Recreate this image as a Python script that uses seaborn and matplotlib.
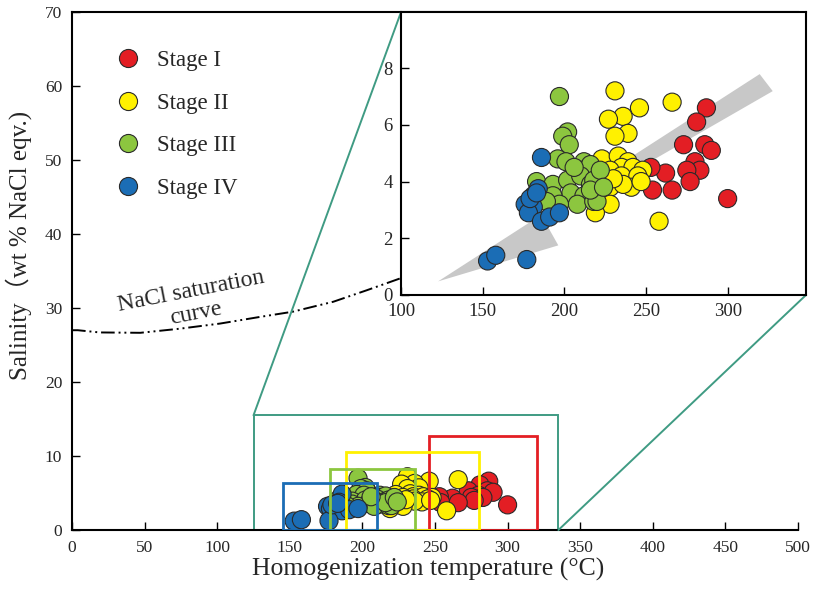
import numpy as np
import pandas as pd
import matplotlib
matplotlib.use("Agg")
import matplotlib.pyplot as plt
from matplotlib.patches import Rectangle, Polygon, ConnectionPatch
import seaborn as sns

# ---------------- data ----------------
stages = ["Stage I", "Stage II", "Stage III", "Stage IV"]
stage_colors = ["#e31e24", "#fff100", "#8cc63f", "#1b6db5"]

stage1_T = [287, 281, 273, 286, 290, 280, 283, 275, 277, 262, 253, 254, 266, 300]
stage1_S = [6.6, 6.1, 5.3, 5.3, 5.1, 4.7, 4.4, 4.4, 4.0, 4.3, 4.5, 3.7, 3.7, 3.4]

stage2_T = [231, 266, 246, 236, 227, 239, 231, 223, 233, 239, 235, 242, 248, 228,
            235, 245, 228, 241, 236, 228, 219, 258, 222, 230, 247]
stage2_S = [7.2, 6.8, 6.6, 6.3, 6.2, 5.7, 5.6, 4.8, 4.9, 4.7, 4.5, 4.5, 4.4, 4.4,
            4.2, 4.2, 3.8, 3.8, 3.9, 3.2, 2.9, 2.6, 4.3, 4.1, 4.0]

stage3_T = [197, 202, 199, 203, 196, 201, 212, 211, 216, 183, 193, 202, 210, 216,
            204, 212, 193, 208, 218, 197, 218, 220, 216, 206, 222, 189, 224]
stage3_S = [7.0, 5.75, 5.6, 5.3, 4.8, 4.7, 4.7, 4.4, 4.6, 4.0, 3.9, 4.05, 4.2, 3.9,
            3.6, 3.5, 3.5, 3.2, 3.3, 3.2, 4.05, 3.3, 3.7, 4.5, 4.4, 3.3, 3.8]

stage4_T = [186, 184, 181, 176, 181, 178, 186, 191, 197, 153, 158, 177, 179, 183]
stage4_S = [4.85, 3.75, 3.5, 3.2, 3.1, 2.9, 2.6, 2.75, 2.9, 1.2, 1.4, 1.25, 3.4, 3.6]

# range boxes of each stage (T min, T max, salinity max)
box_left = [246, 189, 178, 145]
box_right = [320, 280, 236, 210]
box_top = [12.7, 10.6, 8.3, 6.4]

# zoom window shown in inset
zoom_T = [125, 335]
zoom_S_top = 15.5

# NaCl saturation curve
nacl_T = [0, 4, 19, 47, 74, 102, 129.5, 152, 180, 203, 226, 245]
nacl_S = [27.0, 27.0, 26.7, 26.65, 27.2, 27.9, 28.8, 29.5, 30.85, 32.4, 34.0, 35.5]

# grey trend band in inset (T, S)
band_T = [122.7, 319.6, 327.6, 188.3, 196.3]
band_S = [0.48, 7.79, 7.19, 2.57, 1.75]

main_xticks = list(range(0, 501, 50))
main_yticks = list(range(0, 71, 10))
inset_xticks = [100, 150, 200, 250, 300]
inset_yticks = [0, 2, 4, 6, 8]

# ---------------- frame ----------------
rows = []
for st, T, S in zip(stages, [stage1_T, stage2_T, stage3_T, stage4_T],
                    [stage1_S, stage2_S, stage3_S, stage4_S]):
    for t, s in zip(T, S):
        rows.append((st, t, s))
df = pd.DataFrame(rows, columns=["Stage", "T", "S"])

sns.set_style("ticks")
plt.rcParams["font.family"] = ["Liberation Serif", "Noto Sans CJK SC"]
plt.rcParams["xtick.direction"] = "in"
plt.rcParams["ytick.direction"] = "in"

teal = "#3f9b83"
palette = dict(zip(stages, stage_colors))

fig = plt.figure(figsize=(8.24, 5.92), dpi=100)
ax = fig.add_axes([0.0874, 0.1047, 0.881, 0.8750])

sns.scatterplot(data=df, x="T", y="S", hue="Stage", palette=palette, s=170,
                edgecolor="#2a2a2a", linewidth=0.8, ax=ax, zorder=3)

for l, r, t, c in zip(box_left, box_right, box_top, stage_colors):
    ax.add_patch(Rectangle((l, 0), r - l, t, fill=False, edgecolor=c, lw=2.0, zorder=4))
ax.add_patch(Rectangle((zoom_T[0], 0), zoom_T[1] - zoom_T[0], zoom_S_top, fill=False,
                       edgecolor=teal, lw=1.4, zorder=2))

ax.plot(nacl_T, nacl_S, color="black", lw=1.4, linestyle=(0, (7, 2, 1, 2, 1, 2)), zorder=1)
ax.text(82, 32.3, "NaCl saturation", rotation=11, ha="center", va="center", fontsize=17)
ax.text(85, 29.3, "curve", rotation=11, ha="center", va="center", fontsize=17)

ax.set_xlim(0, 500)
ax.set_ylim(0, 70)
ax.set_xticks(main_xticks)
ax.set_yticks(main_yticks)
ax.tick_params(axis="both", labelsize=12.5, length=6, width=1, pad=7, color="black")
for s in ["left", "bottom", "top"]:
    ax.spines[s].set_linewidth(1.5)
    ax.spines[s].set_color("black")
ax.spines["right"].set_visible(False)
ax.set_xlabel("")
ax.set_ylabel("")
fig.text(0.52, 0.018, "Homogenization temperature (°C)", ha="center", va="bottom", fontsize=18.5)
fig.text(0.022, 1 - 245 / 592, "Salinity（wt % NaCl eqv.)", ha="center", va="center",
         rotation=90, fontsize=18)

leg = ax.legend(loc="upper left", bbox_to_anchor=(0.062, 0.927), frameon=False,
                fontsize=16.5, borderpad=0, borderaxespad=0, handlelength=1.0,
                handletextpad=0.75, labelspacing=0.95, markerscale=1.0)

# ---------------- inset ----------------
axins = fig.add_axes([0.4867, 0.5017, 0.4915, 0.4780], zorder=5)
axins.set_facecolor("white")
axins.add_patch(Polygon(list(zip(band_T, band_S)), closed=True, facecolor="#c8c8c8",
                        edgecolor="none", zorder=1))
sns.scatterplot(data=df, x="T", y="S", hue="Stage", palette=palette, s=170,
                edgecolor="#2a2a2a", linewidth=0.8, ax=axins, zorder=3, legend=False)
axins.set_xlim(100, 348)
axins.set_ylim(0, 9.98)
axins.set_xticks(inset_xticks)
axins.set_yticks(inset_yticks)
axins.tick_params(axis="both", labelsize=13.5, length=6, width=1, pad=6, color="black")
for s in axins.spines.values():
    s.set_linewidth(1.5)
    s.set_color("black")
axins.set_xlabel("")
axins.set_ylabel("")

for xyA, xyB in [((zoom_T[0], zoom_S_top), (0, 1)), ((zoom_T[1], 0), (1, 0))]:
    con = ConnectionPatch(xyA=xyA, coordsA=ax.transData, xyB=xyB, coordsB=axins.transAxes,
                          color=teal, lw=1.4)
    fig.add_artist(con)

fig.savefig("out.png", dpi=100)
